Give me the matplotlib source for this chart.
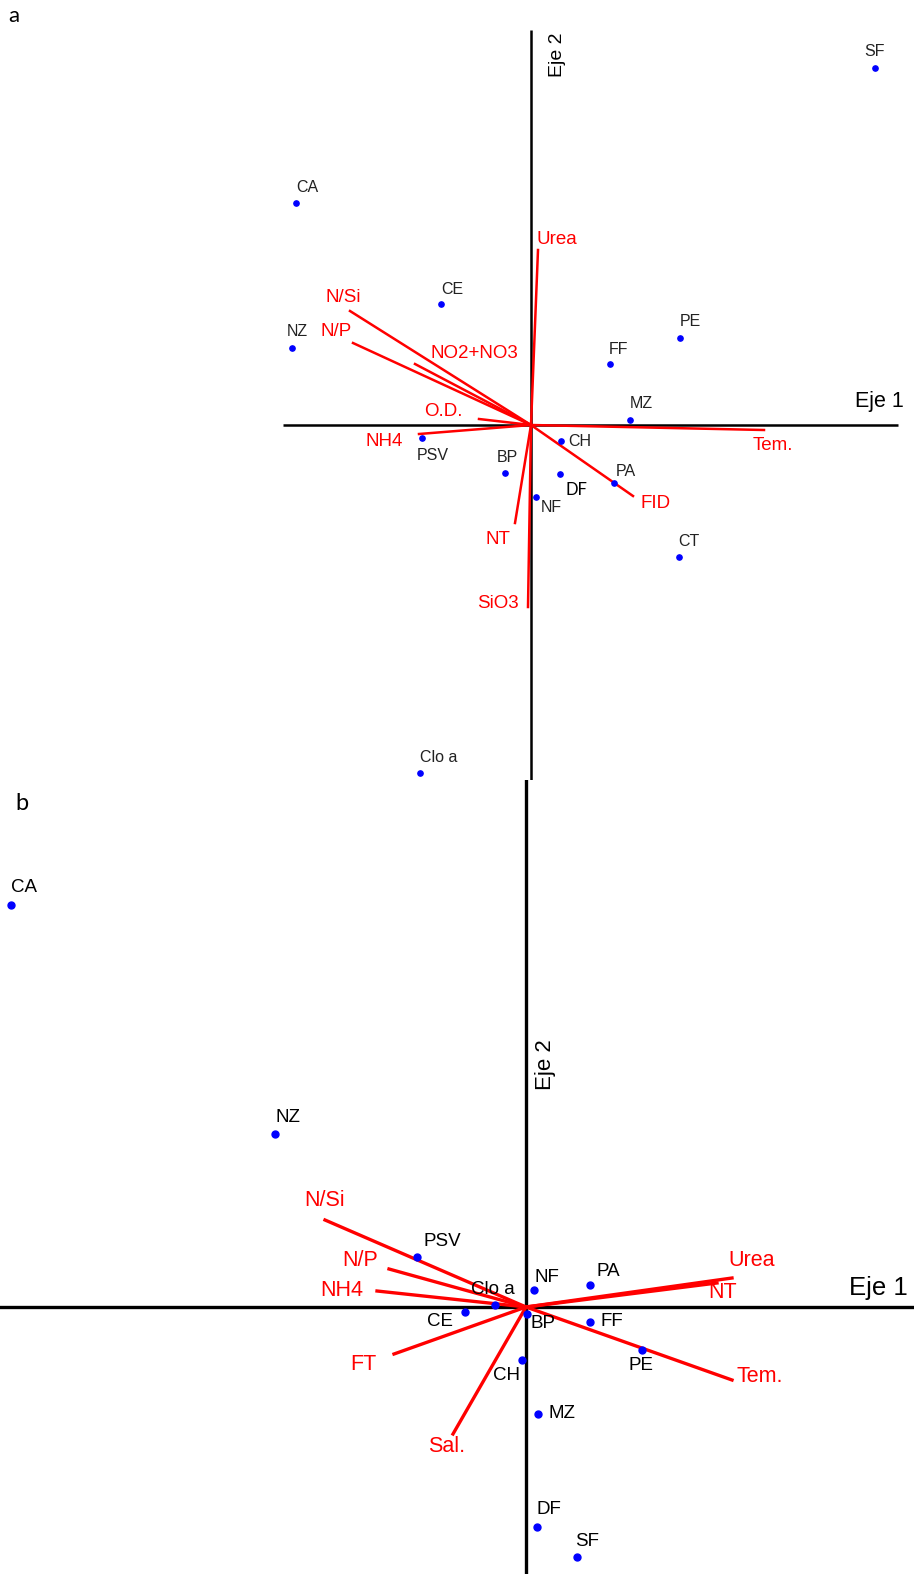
import matplotlib
matplotlib.use('Agg')
import matplotlib.pyplot as plt

plt.rcParams['font.family'] = ['Liberation Sans', 'DejaVu Sans']

# panel a: site scores
sites_a = ['SF', 'CA', 'CE', 'NZ', 'PE', 'FF', 'MZ', 'PSV', 'CH', 'BP', 'DF', 'PA', 'NF', 'CT', 'Clo a']
x_a = [3.44, -2.35, -0.90, -2.39, 1.49, 0.79, 0.99, -1.09, 0.30, -0.26, 0.29, 0.83, 0.05, 1.48, -1.11]
y_a = [3.57, 2.22, 1.21, 0.77, 0.87, 0.61, 0.05, -0.13, -0.16, -0.48, -0.49, -0.58, -0.72, -1.32, -3.48]

# panel a: variable vectors
vars_a = ['Urea', 'N/Si', 'N/P', 'NO2+NO3', 'O.D.', 'NH4', 'Tem.', 'FID', 'NT', 'SiO3']
vx_a = [0.07, -1.81, -1.78, -1.16, -0.52, -1.12, 2.33, 1.02, -0.16, -0.03]
vy_a = [1.75, 1.14, 0.82, 0.61, 0.06, -0.09, -0.05, -0.71, -0.98, -1.82]

# panel b: site scores
sites_b = ['CA', 'NZ', 'PSV', 'Clo a', 'NF', 'PA', 'CE', 'BP', 'FF', 'PE', 'CH', 'MZ', 'DF', 'SF']
x_b = [-5.15, -2.51, -1.09, -0.31, 0.08, 0.64, -0.61, 0.01, 0.64, 1.16, -0.04, 0.12, 0.11, 0.51]
y_b = [4.02, 1.73, 0.50, 0.02, 0.17, 0.22, -0.05, -0.07, -0.15, -0.43, -0.53, -1.07, -2.20, -2.50]

# panel b: variable vectors
vars_b = ['N/Si', 'N/P', 'NH4', 'FT', 'Sal.', 'Urea', 'NT', 'Tem.']
vx_b = [-2.01, -1.37, -1.49, -1.32, -0.73, 2.06, 1.91, 2.06]
vy_b = [0.87, 0.38, 0.16, -0.47, -1.27, 0.29, 0.24, -0.73]

# label offsets in pixels (layout only)
off_sites_a = [(0, 16), (11, 16), (11, 14), (5, 16), (10, 16), (9, 15), (11, 16), (11, -17),
               (19, 0), (2, 15), (16, -16), (12, 11), (15, -10), (10, 15), (19, 15)]
off_vars_a = [(19, 10), (-7, 13), (-17, 12), (59, 11), (-36, 7), (-35, -8), (9, -16),
              (23, -7), (-17, -16), (-30, 4)]
off_sites_b = [(13, 17), (13, 17), (25, 15), (-2, 15), (13, 13), (18, 13), (-25, -10), (16, -9),
               (22, 0), (-1, -16), (-15, -16), (24, 0), (12, 17), (10, 16)]
off_vars_b = [(0, 20), (-29, 9), (-35, 0), (-31, -10), (-6, -12), (20, 18), (6, -9), (28, 4)]

W, H = 914, 1574
fig = plt.figure(figsize=(W / 100, H / 100), dpi=100)

# ---------- panel a ----------
ax = fig.add_axes([0, 794 / H, 1, 780 / H])
ax.set_xlim(-5.31, 3.83)
ax.set_ylim(-3.55, 4.25)
ax.axis('off')
ax.hlines(0, -2.48, 3.67, color='black', lw=1.8, zorder=1)
ax.vlines(0, -3.55, 3.95, color='black', lw=1.8, zorder=1)
for name, vx, vy, off in zip(vars_a, vx_a, vy_a, off_vars_a):
    ax.plot([0, vx], [0, vy], color='red', lw=1.8, zorder=2)
    ax.annotate(name, (vx, vy), xytext=off, textcoords='offset pixels',
                ha='center', va='center', color='red', fontsize=13.5)
ax.plot(x_a, y_a, 'o', color='blue', ms=3.8, zorder=3)
for name, x, y, off in zip(sites_a, x_a, y_a, off_sites_a):
    if name == 'DF':
        ax.annotate(name, (x, y), xytext=off, textcoords='offset pixels', ha='center',
                    va='center', color='black', fontsize=12, family=['Lato', 'DejaVu Sans'])
    else:
        ax.annotate(name, (x, y), xytext=off, textcoords='offset pixels', ha='center',
                    va='center', color='#222222', fontsize=11.5)
ax.text(3.48, 0.23, 'Eje 1', ha='center', va='center', fontsize=15.5)
ax.text(0.26, 3.70, 'Eje 2', ha='center', va='center', fontsize=14, rotation=90)
fig.text(14 / W, 1 - 16 / H, 'a', ha='center', va='center', fontsize=16,
         family=['Lato', 'DejaVu Sans'])

# ---------- panel b ----------
ax = fig.add_axes([0, 0, 1, 794 / H])
ax.set_xlim(-5.26, 3.88)
ax.set_ylim(-2.67, 5.27)
ax.axis('off')
ax.axhline(0, color='black', lw=2.4, zorder=1)
ax.axvline(0, color='black', lw=2.4, zorder=1)
for name, vx, vy, off in zip(vars_b, vx_b, vy_b, off_vars_b):
    ax.plot([0, vx], [0, vy], color='red', lw=2.4, zorder=2)
    ax.annotate(name, (vx, vy), xytext=off, textcoords='offset pixels',
                ha='center', va='center', color='red', fontsize=15.5)
ax.plot(x_b, y_b, 'o', color='blue', ms=5, zorder=3)
for name, x, y, off in zip(sites_b, x_b, y_b, off_sites_b):
    ax.annotate(name, (x, y), xytext=off, textcoords='offset pixels', ha='center',
                va='center', color='black', fontsize=13.5, zorder=4)
ax.text(3.52, 0.19, 'Eje 1', ha='center', va='center', fontsize=18.5)
ax.text(0.19, 2.42, 'Eje 2', ha='center', va='center', fontsize=16, rotation=90)
fig.text(22 / W, 1 - 803 / H, 'b', ha='center', va='center', fontsize=17,
         family=['Lato', 'DejaVu Sans'])

fig.savefig('out.png', dpi=100)
